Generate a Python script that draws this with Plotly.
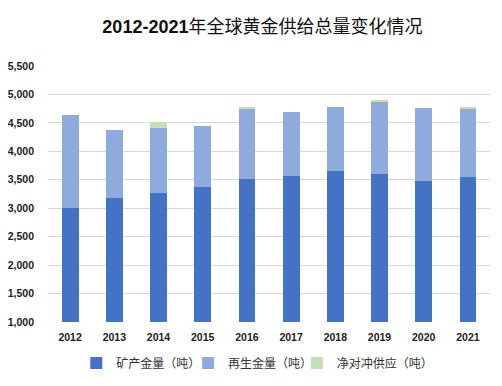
import plotly.graph_objects as go

years = ["2012", "2013", "2014", "2015", "2016", "2017", "2018", "2019", "2020", "2021"]
mine = [3000, 3181, 3269, 3374, 3515, 3573, 3655, 3597, 3486, 3550]
recycled = [1632, 1187, 1140, 1065, 1222, 1111, 1129, 1274, 1274, 1199]
hedging = [0, 0, 100, 0, 50, 0, 0, 15, 0, 20]

names = ["矿产金量（吨）", "再生金量（吨）", "净对冲供应（吨）"]
colors = ["#4472C4", "#8FAADC", "#C5E0B4"]
legend_ids = ["legend", "legend2", "legend3"]
legend_x = [0.064, 0.317, 0.563]

fig = go.Figure()
for vals, nm, col, lg in zip([mine, recycled, hedging], names, colors, legend_ids):
    fig.add_trace(go.Bar(x=years, y=vals, name=nm, marker_color=col,
                         marker_line_width=0, legend=lg))

legend_style = dict(orientation="h", xanchor="left", yref="container", y=0.0608,
                    yanchor="middle",
                    font=dict(family="Noto Sans CJK SC", size=12, color="#333333"),
                    itemwidth=30, bgcolor="rgba(0,0,0,0)")

# page body has an 8px margin, so the figure is sized/offset to compensate
fig.update_layout(
    barmode="stack",
    bargap=0.62,
    width=494, height=378,
    paper_bgcolor="white", plot_bgcolor="white",
    margin=dict(l=39.5, r=11.5, t=57.5, b=64),
    title=dict(text="<b>2012-2021</b>年全球黄金供给总量变化情况",
               x=0.515, xanchor="center", y=0.95, yanchor="middle",
               font=dict(family="Liberation Sans, Noto Sans CJK SC", size=18, color="#111111")),
    xaxis=dict(type="category", showgrid=False, showline=False, ticks="",
               automargin=False, ticklabelstandoff=7,
               tickfont=dict(family="Liberation Sans", size=10.5, color="#222222", weight="bold")),
    yaxis=dict(range=[1000, 5500], dtick=500, tickformat=",", showgrid=True,
               gridcolor="#D9D9D9", gridwidth=1, zeroline=False, showline=False,
               ticks="", ticklabelstandoff=13, automargin=False,
               tickfont=dict(family="Liberation Sans", size=10.5, color="#222222", weight="bold")),
    legend=dict(x=legend_x[0], **legend_style),
    legend2=dict(x=legend_x[1], **legend_style),
    legend3=dict(x=legend_x[2], **legend_style),
    showlegend=True,
)

fig.write_html("out.html")
